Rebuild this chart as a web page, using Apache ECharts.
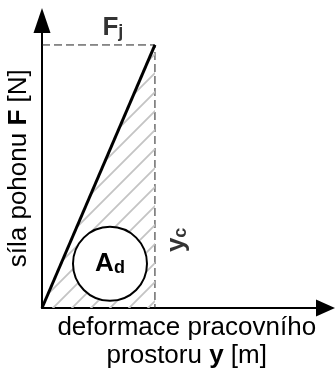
<!DOCTYPE html>
<html>
<head>
<meta charset="utf-8">
<script src="https://cdn.jsdelivr.net/npm/echarts@6/dist/echarts.min.js"></script>
<style>
  html, body { margin: 0; padding: 0; background: #fff; }
  #chart { width: 335px; height: 371px; }
</style>
</head>
<body>
<div id="chart"></div>
<script>
// Work diagram: force F rising linearly with deformation y up to (yc, Fj)
var lineX = [0, 1];          // deformation y (in units of yc)
var lineF = [0, 1];          // force F (in units of Fj)
var limitX = [0, 1, 1];      // dashed guide: Fj level, then down at yc
var limitF = [1, 1, 0];
var axisMaxX = 2.51;
var axisMaxF = 1.093;
var areaCentre = [0.602, 0.168];   // position of the Ad marker
var fjAt = [0.628, 1.065];
var ycAt = [1.195, 0.259];

var FONT = "'Liberation Sans', Arial, sans-serif";

// diagonal hatch tile for the work area
function hatchTile() {
  var s = 19;
  var c = document.createElement('canvas');
  c.width = s; c.height = s;
  var g = c.getContext('2d');
  g.strokeStyle = '#c4c4c4';
  g.lineWidth = 1.8;
  g.beginPath();
  g.moveTo(0, s); g.lineTo(s, 0);
  g.moveTo(-2, 2); g.lineTo(2, -2);
  g.moveTo(s - 2, s + 2); g.lineTo(s + 2, s - 2);
  g.stroke();
  return c;
}

function pairs(xs, ys) { return xs.map(function (x, i) { return [x, ys[i]]; }); }

var chart = echarts.init(document.getElementById('chart'), null, { renderer: 'canvas' });
chart.setOption({
  animation: false,
  textStyle: { fontFamily: FONT, color: '#000' },
  grid: { left: 42, top: 20.5, right: 9.5, bottom: 63, containLabel: false, outerBoundsMode: 'none' },
  xAxis: {
    type: 'value', min: 0, max: axisMaxX,
    axisLine: { show: true, symbol: ['none', 'triangle'], symbolSize: [17, 19],
                lineStyle: { color: '#000', width: 2 } },
    axisTick: { show: false }, axisLabel: { show: false }, splitLine: { show: false },
    name: '{n|deformace pracovního}\n{n|prostoru }{b|y}{n| [m]}',
    nameLocation: 'middle', nameGap: 6,
    nameTextStyle: {
      color: '#000', verticalAlign: 'top', padding: [0, 0, 0, 6], lineHeight: 28,
      rich: {
        n: { fontSize: 26, color: '#000', fontFamily: FONT, lineHeight: 28 },
        b: { fontSize: 26, color: '#000', fontWeight: 'bold', fontFamily: FONT, lineHeight: 28 }
      }
    }
  },
  yAxis: {
    type: 'value', min: 0, max: axisMaxF,
    axisLine: { show: true, symbol: ['none', 'triangle'], symbolSize: [17, 25],
                lineStyle: { color: '#000', width: 2 } },
    axisTick: { show: false }, axisLabel: { show: false }, splitLine: { show: false },
    name: '{n|síla pohonu }{b|F}{n| [N]}',
    nameLocation: 'middle', nameGap: 10, nameRotate: 90,
    nameTextStyle: {
      color: '#000', padding: [0, 8, 0, 0],
      rich: {
        n: { fontSize: 26, color: '#000', fontFamily: FONT },
        b: { fontSize: 26, color: '#000', fontWeight: 'bold', fontFamily: FONT }
      }
    }
  },
  series: [
    {
      type: 'line', name: 'limits', data: pairs(limitX, limitF),
      symbol: 'none', z: 2,
      lineStyle: { color: '#222', width: 1, type: [8, 4] }
    },
    {
      type: 'line', name: 'F(y)', data: pairs(lineX, lineF),
      symbol: 'none', z: 3,
      lineStyle: { color: '#000', width: 3 },
      areaStyle: { color: { image: hatchTile(), repeat: 'repeat' }, opacity: 1 }
    },
    {
      type: 'scatter', name: 'Ad', data: [areaCentre], z: 4,
      symbol: 'circle', symbolSize: 74,
      itemStyle: { color: '#fff', borderColor: '#000', borderWidth: 2, opacity: 1 },
      label: {
        show: true, position: 'inside', formatter: '{a|A}{d|d}', color: '#000',
        rich: {
          a: { fontSize: 26, fontWeight: 'bold', color: '#000', fontFamily: FONT },
          d: { fontSize: 18, fontWeight: 'bold', color: '#000', fontFamily: FONT, padding: [8, 0, 0, 0] }
        }
      }
    },
    {
      type: 'scatter', name: 'Fj', data: [fjAt], z: 4,
      symbolSize: 0,
      label: {
        show: true, position: 'inside', formatter: '{a|F}{s|j}', color: '#000',
        rich: {
          a: { fontSize: 26, fontWeight: 'bold', color: '#000', fontFamily: FONT },
          s: { fontSize: 18, fontWeight: 'bold', color: '#000', fontFamily: FONT, padding: [8, 0, 0, 0] }
        }
      }
    },
    {
      type: 'scatter', name: 'yc', data: [ycAt], z: 4,
      symbolSize: 0,
      label: {
        show: true, position: 'inside', rotate: 90, formatter: '{a|y}{s|c}', color: '#000',
        rich: {
          a: { fontSize: 26, fontWeight: 'bold', color: '#000', fontFamily: FONT },
          s: { fontSize: 18, fontWeight: 'bold', color: '#000', fontFamily: FONT, padding: [8, 0, 0, 0] }
        }
      }
    }
  ]
});
</script>
</body>
</html>
